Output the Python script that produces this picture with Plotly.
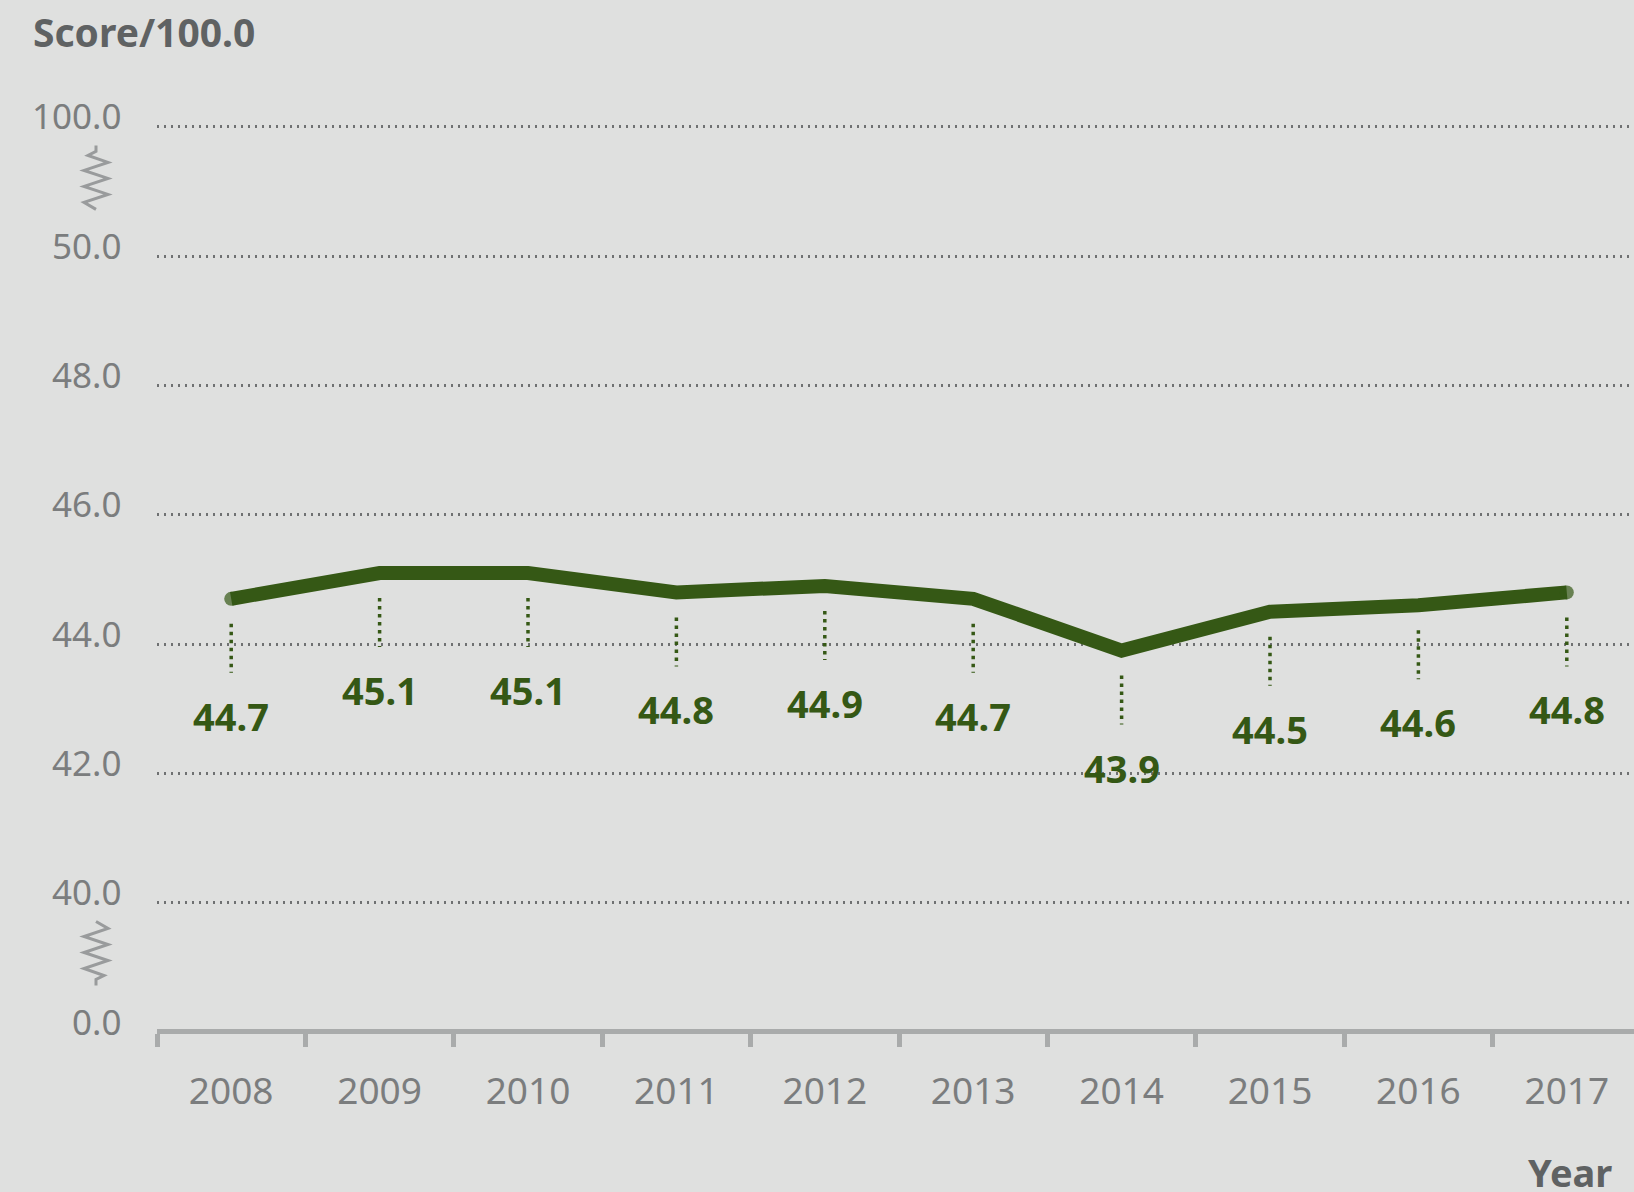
import numpy as np
import plotly.graph_objects as go

years = ["2008", "2009", "2010", "2011", "2012", "2013", "2014", "2015", "2016", "2017"]
scores = [44.7, 45.1, 45.1, 44.8, 44.9, 44.7, 43.9, 44.5, 44.6, 44.8]
axis_values = [0, 40, 42, 44, 46, 48, 50, 100]
axis_labels = ["0.0", "40.0", "42.0", "44.0", "46.0", "48.0", "50.0", "100.0"]

GREEN = "#355815"
GRID = "#6f7172"
TXT = "#7b7d7e"
BG = "#dfe0df"
FONT = "Noto Sans"

W, H = 1634, 1192
ML, MR, MT, MB = 157, 0, 101, 163
unit_px = 129.3
YMIN = 3 / unit_px
YMAX = YMIN + (H - MT - MB) / unit_px
plot_w = W - ML - MR
plot_h = H - MT - MB

idx = list(range(len(axis_values)))
def to_pos(v):
    return float(np.interp(v, axis_values, idx))

def pos_to_paper(p):
    return (p - YMIN) / (YMAX - YMIN)

pos = [to_pos(v) for v in scores]
xi = list(range(len(years)))

fig = go.Figure()

# leader dotted lines
lx, ly = [], []
for i, p in zip(xi, pos):
    lx += [i, i, None]
    ly += [p - 25 / unit_px, p - 74 / unit_px, None]
fig.add_trace(go.Scatter(x=lx, y=ly, mode="lines",
                         line=dict(color=GREEN, width=3.5, dash="3.5px,4.5px"),
                         hoverinfo="skip", showlegend=False))

# main line
n = len(years)
msizes = [14 if i in (0, n - 1) else 0 for i in range(n)]
fig.add_trace(go.Scatter(x=xi, y=pos, mode="lines+markers",
                         line=dict(color=GREEN, width=14),
                         marker=dict(color=GREEN, size=msizes, line=dict(width=0)),
                         showlegend=False))

annotations = []
for i, p, v in zip(xi, pos, scores):
    annotations.append(dict(x=i, y=p, xref="x", yref="y", text=f"<b>{v:.1f}</b>",
                            showarrow=False, yshift=-117, yanchor="middle",
                            font=dict(family=FONT, size=38, color=GREEN)))

# y tick labels
for v, lab in zip(axis_values, axis_labels):
    annotations.append(dict(x=(123 - ML) / plot_w, y=pos_to_paper(to_pos(v)), xref="paper", yref="paper",
                            text=lab, showarrow=False, xanchor="right", yanchor="middle",
                            yshift=11, font=dict(family=FONT, size=35, color=TXT)))

annotations.append(dict(x=(31 - ML) / plot_w, y=1 + (MT - 32) / plot_h, xref="paper", yref="paper",
                        text="<b>Score/100.0</b>", showarrow=False, xanchor="left", yanchor="middle",
                        font=dict(family=FONT, size=39, color="#5f6263")))
annotations.append(dict(x=(1614 - ML) / plot_w, y=-(1172 - (H - MB)) / plot_h, xref="paper", yref="paper",
                        text="<b>Year</b>", showarrow=False, xanchor="right", yanchor="middle",
                        font=dict(family=FONT, size=38, color="#5f6263")))

# axis break squiggles
def squiggle(flip):
    pts = [(0, 32), (0, 26), (-8, 22), (12, 15), (-12, 7), (12, -1), (-12, -9), (12, -17), (-12, -25), (0, -32)]
    if flip:
        pts = [(-x, -y) for x, y in pts[::-1]]
    return "M " + " L ".join(f"{x},{y}" for x, y in pts)

shapes = []
for ymid, flip in [(to_pos(100) - (177.5 - 127) / unit_px, False), (to_pos(0) + (1032 - 953.5) / unit_px, True)]:
    shapes.append(dict(type="path", xref="paper", yref="paper", xsizemode="pixel", ysizemode="pixel",
                       xanchor=(96 - ML) / plot_w, yanchor=pos_to_paper(ymid), path=squiggle(flip),
                       line=dict(color="#999b9c", width=3)))

fig.update_layout(
    width=W, height=H,
    margin=dict(l=ML, r=MR, t=MT, b=MB),
    paper_bgcolor=BG, plot_bgcolor=BG,
    annotations=annotations, shapes=shapes,
    xaxis=dict(range=[-0.5, -0.5 + plot_w / 148.4], tickvals=xi, ticktext=years,
               showgrid=False, showline=True, linecolor="#a9abab", linewidth=5,
               ticks="", tickfont=dict(family=FONT, size=37, color=TXT), ticklabelstandoff=26,
               zeroline=False,
               minor=dict(tickvals=[i - 0.5 for i in xi], ticks="outside", ticklen=13, tickwidth=5,
                          tickcolor="#a9abab", showgrid=False)),
    yaxis=dict(range=[YMIN, YMAX], tickvals=idx[1:], showticklabels=False, showgrid=True,
               gridcolor=GRID, gridwidth=2.5, griddash="2px,5px", zeroline=False, showline=False),
)

fig.write_html("out.html", config={"displayModeBar": False},
               post_script="document.body.style.margin='0';document.body.style.overflow='hidden';")
